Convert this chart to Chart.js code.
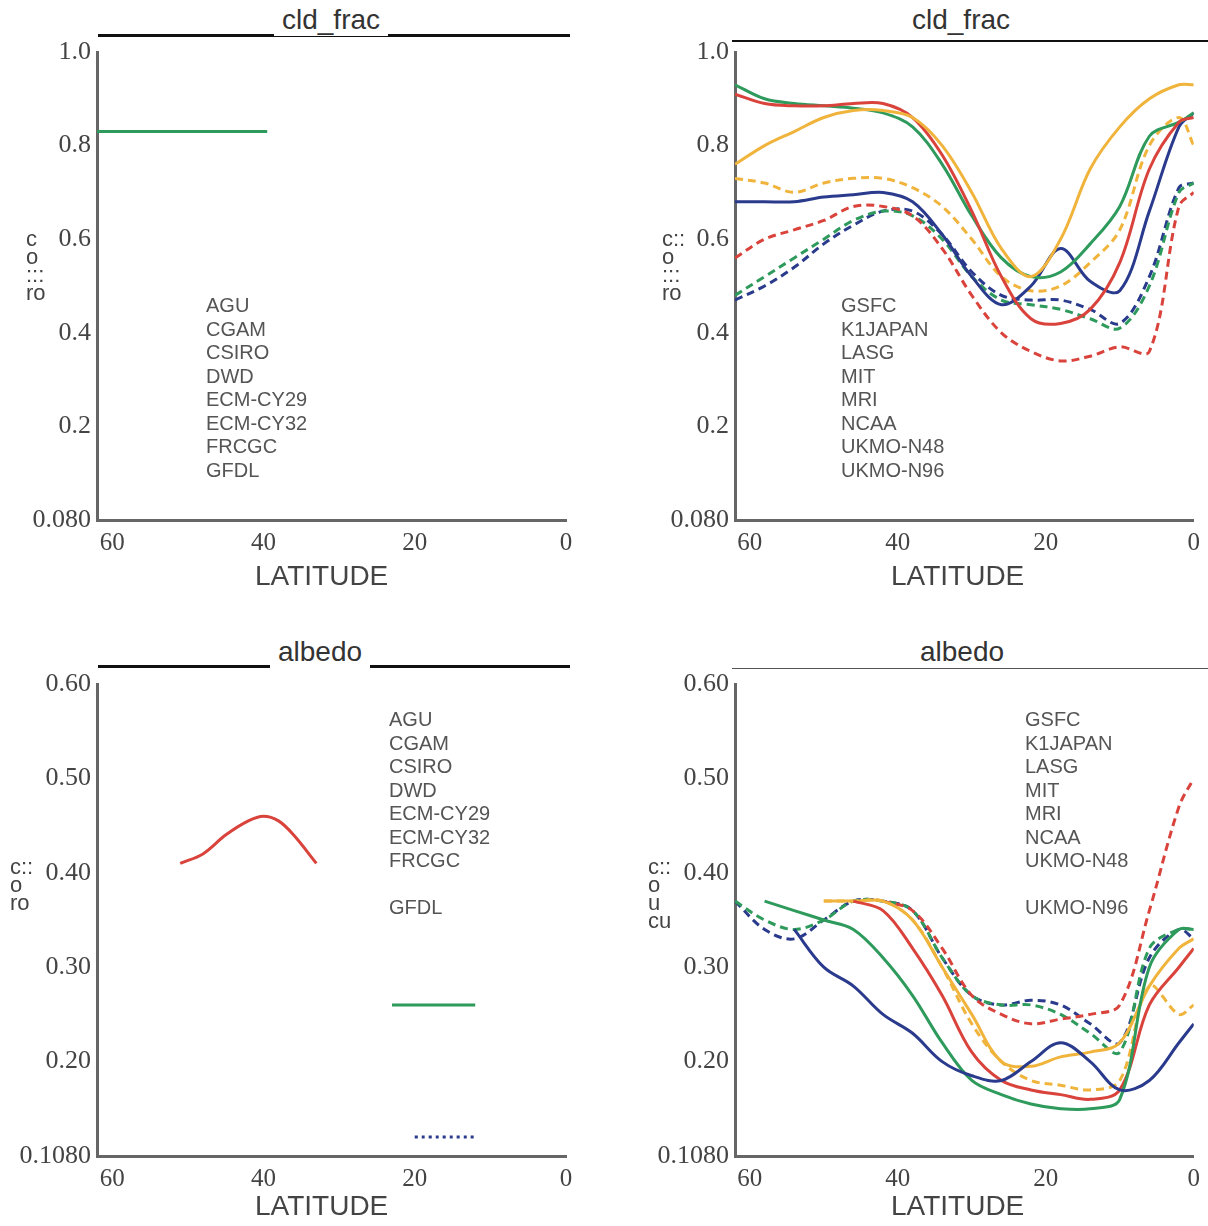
<!DOCTYPE html>
<html>
<head>
<meta charset="utf-8">
<script src="https://cdn.jsdelivr.net/npm/chart.js@4/dist/chart.umd.min.js"></script>
<style>
  body { margin: 0; background: #fff; width: 1208px; height: 1226px; position: relative; overflow: hidden; }
  .panel { position: absolute; width: 604px; height: 613px; }
  .panel canvas { position: absolute; left: 0; top: 0; }
  .title { position: absolute; font: 28px "Liberation Sans", Arial, sans-serif; color: #333; background: #fff; padding: 0 8px; }
  .tline { position: absolute; height: 0; border-top: 3px solid #111; }
  .xlab { position: absolute; font: 28px "Liberation Sans", Arial, sans-serif; color: #444; }
  .names { position: absolute; font: 20px "Liberation Sans", Arial, sans-serif; color: #555; line-height: 23.5px; }
  .ylab { position: absolute; font: 22px "Liberation Sans", Arial, sans-serif; color: #444; line-height: 18px; }
</style>
</head>
<body>
<div class="panel" id="p0" style="left:0;top:0"><canvas id="c0" width="604" height="613"></canvas></div>
<div class="panel" id="p1" style="left:604px;top:0"><canvas id="c1" width="604" height="613"></canvas></div>
<div class="panel" id="p2" style="left:0;top:613px"><canvas id="c2" width="604" height="613"></canvas></div>
<div class="panel" id="p3" style="left:604px;top:613px"><canvas id="c3" width="604" height="613"></canvas></div>

<div class="tline" style="left:98px;top:34px;width:472px"></div>
<div class="title" style="left:274px;top:4px">cld_frac</div>
<div class="tline" style="left:732px;top:40px;width:476px;border-top-width:2px"></div>
<div class="title" style="left:904px;top:4px">cld_frac</div>
<div class="tline" style="left:98px;top:665px;width:472px"></div>
<div class="title" style="left:270px;top:636px">albedo</div>
<div class="tline" style="left:732px;top:668px;width:476px;border-top-width:1px;border-color:#555"></div>
<div class="title" style="left:912px;top:636px">albedo</div>

<div class="xlab" style="left:255px;top:560px">LATITUDE</div>
<div class="xlab" style="left:891px;top:560px">LATITUDE</div>
<div class="xlab" style="left:255px;top:1190px">LATITUDE</div>
<div class="xlab" style="left:891px;top:1190px">LATITUDE</div>

<div class="ylab" style="left:26px;top:230px">c<br>o<br>:::<br>ro</div>
<div class="ylab" style="left:662px;top:230px">c::<br>o<br>:::<br>ro</div>
<div class="ylab" style="left:10px;top:858px">c::<br>o<br>ro</div>
<div class="ylab" style="left:648px;top:858px">c::<br>o<br>u<br>cu</div>

<div class="names" style="left:206px;top:294px">AGU<br>CGAM<br>CSIRO<br>DWD<br>ECM-CY29<br>ECM-CY32<br>FRCGC<br>GFDL</div>
<div class="names" style="left:841px;top:294px">GSFC<br>K1JAPAN<br>LASG<br>MIT<br>MRI<br>NCAA<br>UKMO-N48<br>UKMO-N96</div>
<div class="names" style="left:389px;top:708px">AGU<br>CGAM<br>CSIRO<br>DWD<br>ECM-CY29<br>ECM-CY32<br>FRCGC<br><br>GFDL</div>
<div class="names" style="left:1025px;top:708px">GSFC<br>K1JAPAN<br>LASG<br>MIT<br>MRI<br>NCAA<br>UKMO-N48<br><br>UKMO-N96</div>

<script>
// ==================================================
// DATA
// ==================================================
const lats = [62, 58, 54, 50, 46, 42, 38, 34, 30, 26, 22, 18, 14, 10, 6, 2, 0];
const xTicks = [60, 40, 20, 0];

// cloud fraction, right panel
const cfYellow  = [0.76, 0.80, 0.83, 0.86, 0.875, 0.875, 0.86, 0.80, 0.70, 0.58, 0.52, 0.60, 0.75, 0.84, 0.90, 0.93, 0.93];
const cfRed     = [0.91, 0.89, 0.885, 0.885, 0.89, 0.89, 0.86, 0.78, 0.66, 0.52, 0.43, 0.42, 0.45, 0.55, 0.75, 0.85, 0.86];
const cfGreen   = [0.93, 0.90, 0.89, 0.885, 0.88, 0.87, 0.84, 0.76, 0.65, 0.56, 0.52, 0.53, 0.59, 0.67, 0.82, 0.85, 0.87];
const cfBlue    = [0.68, 0.68, 0.68, 0.69, 0.695, 0.70, 0.68, 0.61, 0.52, 0.46, 0.50, 0.58, 0.51, 0.49, 0.66, 0.84, 0.87];
const cfYellowD = [0.73, 0.72, 0.70, 0.72, 0.73, 0.73, 0.71, 0.67, 0.60, 0.52, 0.49, 0.50, 0.55, 0.62, 0.80, 0.86, 0.80];
const cfRedD    = [0.56, 0.60, 0.62, 0.64, 0.67, 0.67, 0.65, 0.58, 0.48, 0.40, 0.36, 0.34, 0.35, 0.37, 0.36, 0.67, 0.70];
const cfGreenD  = [0.48, 0.52, 0.56, 0.60, 0.64, 0.66, 0.65, 0.60, 0.52, 0.47, 0.46, 0.45, 0.43, 0.41, 0.50, 0.70, 0.72];
const cfBlueD   = [0.47, 0.50, 0.54, 0.59, 0.63, 0.66, 0.66, 0.61, 0.53, 0.48, 0.47, 0.47, 0.45, 0.42, 0.52, 0.71, 0.72];

// albedo, right panel
const alBlue    = [null, null, 0.34, 0.30, 0.28, 0.25, 0.23, 0.20, 0.185, 0.18, 0.20, 0.22, 0.20, 0.17, 0.18, 0.22, 0.24];
const alGreen   = [null, 0.37, 0.36, 0.35, 0.34, 0.31, 0.27, 0.22, 0.18, 0.165, 0.155, 0.15, 0.15, 0.16, 0.30, 0.34, 0.34];
const alRed     = [null, null, null, null, 0.37, 0.36, 0.32, 0.27, 0.21, 0.18, 0.17, 0.165, 0.16, 0.17, 0.26, 0.30, 0.32];
const alYellow  = [null, null, null, 0.37, 0.37, 0.37, 0.35, 0.30, 0.25, 0.20, 0.195, 0.205, 0.21, 0.22, 0.28, 0.32, 0.33];
const alYellowD = [null, null, null, 0.37, 0.37, 0.37, 0.35, 0.30, 0.24, 0.20, 0.18, 0.175, 0.17, 0.18, 0.28, 0.25, 0.26];
const alRedD    = [null, null, null, null, null, 0.37, 0.36, 0.32, 0.27, 0.25, 0.24, 0.245, 0.25, 0.26, 0.36, 0.47, 0.50];
const alGreenD  = [0.37, 0.35, 0.34, 0.35, 0.37, 0.37, 0.36, 0.31, 0.27, 0.26, 0.26, 0.25, 0.23, 0.21, 0.32, 0.34, 0.34];
const alBlueD   = [0.37, 0.34, 0.33, 0.35, 0.37, 0.37, 0.36, 0.31, 0.27, 0.26, 0.265, 0.26, 0.24, 0.22, 0.31, 0.34, 0.33];

// left panel fragments
const cfLeftLats = [62, 39.5];
const cfLeftVals = [0.83, 0.83];
const alArcLats = [51, 48, 45, 42, 40, 38, 36, 33];
const alArcVals = [0.41, 0.42, 0.44, 0.455, 0.46, 0.455, 0.44, 0.41];
const alGreenLats = [23, 12];
const alGreenVals = [0.26, 0.26];
const alDotLats = [20, 18, 16, 14, 12];
const alDotVals = [0.12, 0.12, 0.12, 0.12, 0.12];

// ==================================================
// HELPERS
// ==================================================
const YELLOW = "#f0b43c", RED = "#d9433c", GREEN = "#2e9a5c", BLUE = "#2a3a8c";

const pts = (xs, ys) => xs.map((x, i) => ({ x: x, y: ys[i] }));

function series(vals, color, dashed, xs) {
  return {
    data: pts(xs || lats, vals),
    borderColor: color,
    borderWidth: 3,
    borderDash: dashed ? [8, 5] : [],
    pointRadius: 0,
    tension: 0.35,
    fill: false,
    spanGaps: false,
  };
}

function makeChart(id, datasets, yMin, yMax, yStep, bottomLabel, leftW, rightPad, topPad, xHeight) {
  const ctx = document.getElementById(id).getContext("2d");
  return new Chart(ctx, {
    type: "line",
    data: { datasets: datasets },
    options: {
      responsive: false,
      animation: false,
      layout: { padding: { top: topPad, right: rightPad, bottom: 0, left: 0 } },
      plugins: { legend: { display: false }, tooltip: { enabled: false } },
      scales: {
        x: {
          type: "linear",
          reverse: true,
          min: 0,
          max: 62,
          afterBuildTicks: (axis) => { axis.ticks = xTicks.map((v) => ({ value: v })); },
          afterFit: (axis) => { axis.height = xHeight; },
          grid: { display: false, drawTicks: false },
          border: { display: true, color: "#666", width: 3 },
          ticks: { color: "#444", padding: 8, font: { family: "Liberation Serif", size: 25 } },
        },
        y: {
          min: yMin,
          max: yMax,
          afterFit: (axis) => { axis.width = leftW; },
          grid: { display: false, drawTicks: false },
          border: { display: true, color: "#666", width: 3 },
          ticks: {
            stepSize: yStep,
            color: "#444",
            padding: 6,
            font: { family: "Liberation Serif", size: 26 },
            callback: function (value) {
              if (Math.abs(value - yMin) < 1e-6) return bottomLabel;
              return yStep < 0.1 ? value.toFixed(2) : (yMin > 0 ? value.toFixed(2) : value.toFixed(1));
            },
          },
        },
      },
    },
  });
}

// ==================================================
// CHARTS
// ==================================================
makeChart("c0", [series(cfLeftVals, GREEN, false, cfLeftLats)], 0, 1.0, 0.2, "0.080", 97, 38, 52, 93);

makeChart("c1", [
  series(cfYellow, YELLOW, false), series(cfRed, RED, false),
  series(cfGreen, GREEN, false), series(cfBlue, BLUE, false),
  series(cfYellowD, YELLOW, true), series(cfRedD, RED, true),
  series(cfGreenD, GREEN, true), series(cfBlueD, BLUE, true),
], 0, 1.0, 0.2, "0.080", 131, 3, 52, 93);

makeChart("c2", [
  series(alArcVals, RED, false, alArcLats),
  series(alGreenVals, GREEN, false, alGreenLats),
  Object.assign(series(alDotVals, BLUE, true, alDotLats), { borderDash: [3, 4] }),
], 0.1, 0.6, 0.1, "0.1080", 97, 38, 71, 70);

makeChart("c3", [
  series(alBlue, BLUE, false), series(alGreen, GREEN, false),
  series(alRed, RED, false), series(alYellow, YELLOW, false),
  series(alYellowD, YELLOW, true), series(alRedD, RED, true),
  series(alGreenD, GREEN, true), series(alBlueD, BLUE, true),
], 0.1, 0.6, 0.1, "0.1080", 131, 3, 71, 70);
</script>
</body>
</html>
